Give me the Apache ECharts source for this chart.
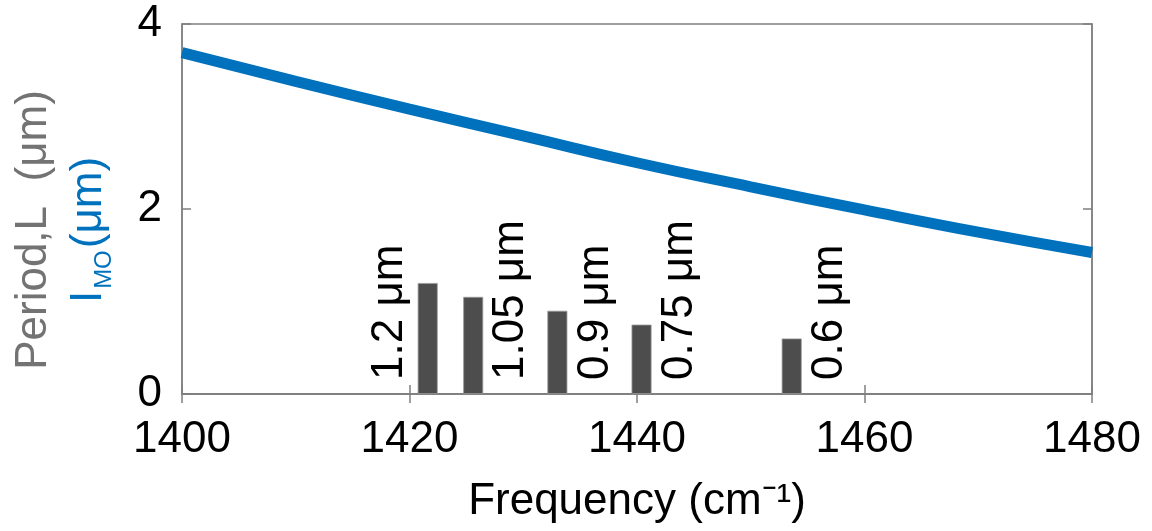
<!DOCTYPE html>
<html>
<head>
<meta charset="utf-8">
<script src="https://cdn.jsdelivr.net/npm/echarts@6/dist/echarts.min.js"></script>
<style>
  html, body { margin: 0; padding: 0; background: #fff; }
  #chart { width: 1152px; height: 531px; }
</style>
</head>
<body>
<div id="chart"></div>
<script>
// blue curve: l_MO vs frequency
const curveFreq = [1400, 1410, 1420, 1430, 1440, 1450, 1460, 1470, 1480]
const curveVal = [3.69, 3.38, 3.08, 2.79, 2.50, 2.24, 1.99, 1.75, 1.53]

// grating periods (bars)
const barFreq = [1421.6, 1425.6, 1433.0, 1440.4, 1453.6]
const barVal = [1.2, 1.05, 0.9, 0.75, 0.6]
const barText = ['1.2 μm', '1.05 μm', '0.9 μm', '0.75 μm', '0.6 μm']
const labelSide = [-1, 1, 1, 1, 1] // left or right of the bar

const xTicks = [1400, 1420, 1440, 1460, 1480]
const yTicks = [0, 2, 4]

const font = 'Liberation Sans, Arial, sans-serif'
const frameColor = '#808080'

const chart = echarts.init(document.getElementById('chart'))

const tickStyle = { show: true, inside: true, length: 9, lineStyle: { color: frameColor, width: 1.5 } }

chart.setOption({
  animation: false,
  grid: { left: 182, right: 60, top: 24, bottom: 137, show: true, borderColor: frameColor, borderWidth: 1.5 },
  xAxis: [{
    type: 'value',
    min: xTicks[0],
    max: xTicks[xTicks.length - 1],
    interval: 20,
    name: 'Frequency (cm⁻¹)',
    nameLocation: 'middle',
    nameGap: 86,
    nameTextStyle: { fontFamily: font, fontSize: 44, color: '#000' },
    axisLine: { show: true, lineStyle: { color: frameColor, width: 1.5 } },
    axisTick: tickStyle,
    axisLabel: { fontFamily: font, fontSize: 44, color: '#000', margin: 24, formatter: (v) => String(v) },
    splitLine: { show: false }
  }, {
    type: 'value',
    position: 'top',
    min: xTicks[0],
    max: xTicks[xTicks.length - 1],
    interval: 20,
    axisLine: { show: true, lineStyle: { color: frameColor, width: 1.5 } },
    axisTick: tickStyle,
    axisLabel: { show: false },
    splitLine: { show: false }
  }],
  yAxis: [{
    type: 'value',
    min: yTicks[0],
    max: yTicks[yTicks.length - 1],
    interval: 2,
    axisLine: { show: true, lineStyle: { color: frameColor, width: 1.5 } },
    axisTick: tickStyle,
    axisLabel: { fontFamily: font, fontSize: 44, color: '#000', margin: 20 },
    splitLine: { show: false }
  }, {
    type: 'value',
    position: 'right',
    min: yTicks[0],
    max: yTicks[yTicks.length - 1],
    interval: 2,
    axisLine: { show: true, lineStyle: { color: frameColor, width: 1.5 } },
    axisTick: tickStyle,
    axisLabel: { show: false },
    splitLine: { show: false }
  }],
  graphic: [{
    type: 'text',
    x: 61,
    y: 230,
    rotation: Math.PI / 2,
    style: {
      text: '{g|Period,L  (μm)}\n{b|I}{s|MO}{b|(μm)}',
      align: 'center',
      verticalAlign: 'middle',
      rich: {
        g: { fontFamily: font, fontSize: 44, fill: '#737373', lineHeight: 55 },
        b: { fontFamily: font, fontSize: 44, fill: '#0072BD', lineHeight: 55 },
        s: { fontFamily: font, fontSize: 24, fill: '#0072BD', lineHeight: 55, verticalAlign: 'bottom', padding: [0, 2, 0, 2] }
      }
    }
  }],
  series: [{
    type: 'bar',
    barWidth: 20,
    itemStyle: { color: '#4d4d4d', borderColor: '#9a9a9a', borderWidth: 0.8 },
    label: {
      show: true,
      position: 'insideBottom',
      distance: 0,
      rotate: 90,
      align: 'left',
      verticalAlign: 'middle',
      fontFamily: font,
      fontSize: 44,
      color: '#000',
      formatter: (p) => barText[p.dataIndex]
    },
    // label offset is in the rotated frame: [up, right]
    data: barFreq.map((f, i) => ({
      value: [f, barVal[i]],
      label: { offset: [14, labelSide[i] * 38] }
    }))
  }, {
    type: 'line',
    smooth: true,
    symbol: 'none',
    lineStyle: { color: '#0072BD', width: 11 },
    data: curveFreq.map((f, i) => [f, curveVal[i]])
  }]
})
</script>
</body>
</html>
